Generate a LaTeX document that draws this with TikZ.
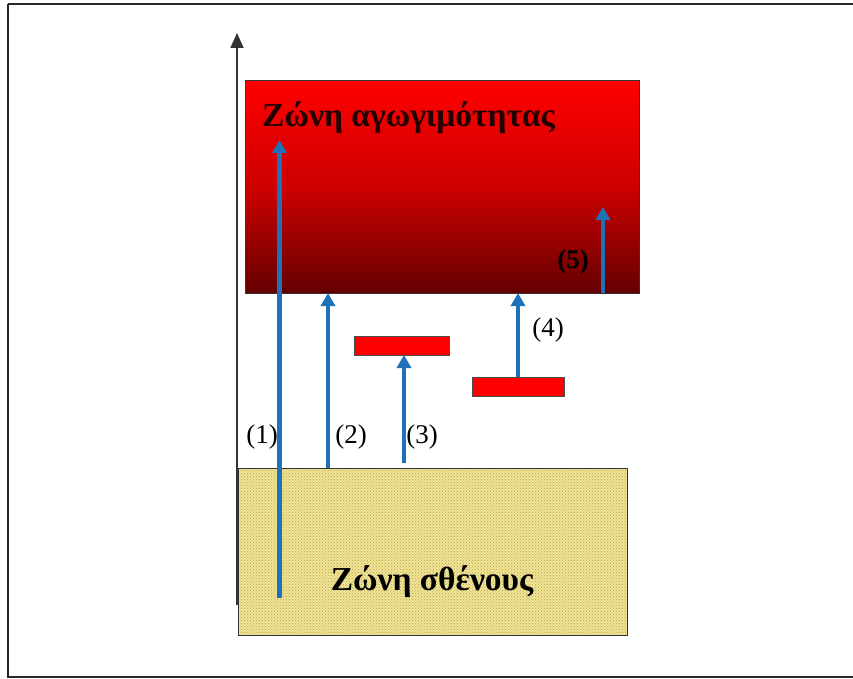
\documentclass[tikz,border=0pt]{standalone}
\usepackage{fontspec}
\setmainfont{Liberation Serif}
\usetikzlibrary{arrows.meta,patterns}
\definecolor{arrowblue}{RGB}{31,114,185}
\definecolor{bandtop}{RGB}{255,0,0}
\definecolor{bandbot}{RGB}{100,0,0}
\definecolor{sandfill}{RGB}{240,228,150}
\definecolor{sanddots}{RGB}{185,165,75}
\definecolor{darktext}{RGB}{35,0,0}
\tikzset{
  frame/.style={line width=2.2pt, draw=black!85},
  bandbox/.style={draw=black!80, line width=1pt, inner sep=0pt, outer sep=0pt, anchor=north west},
  levelbox/.style={draw=black!70, line width=0.8pt, fill=red, inner sep=0pt, outer sep=0pt, anchor=north west, minimum width=#1},
  trans/.style={draw=arrowblue, line width=4.5pt, -{Triangle[width=14pt,length=13pt]}},
  lbl/.style={font=\fontsize{27}{30}\selectfont, inner sep=0pt},
  title/.style={font=\fontsize{33.5}{38}\selectfont\bfseries, text=darktext, inner sep=0pt},
}
\begin{document}
\begin{tikzpicture}[x=1pt,y=-1pt]
\useasboundingbox (0,0) rectangle (853,679);
% outer frame (right edge lies beyond the picture)
\draw[frame] (8,4) -- (870,4) (8,4) -- (8,677) -- (870,677);
% energy axis
\coordinate (axbot) at (237,605);
\coordinate (axtop) at (237,33);
\draw[line width=1.8pt, draw=black!80, -{Triangle[width=13pt,length=15pt]}] (axbot) -- (axtop);
% conduction band
\node[bandbox, minimum width=394pt, minimum height=212pt, top color=bandtop, bottom color=bandbot, middle color={rgb,255:red,205;green,0;blue,0}] (cb) at (245,81) {};
\node[title, anchor=west] (cbt) at (262,118) {Ζώνη αγωγιμότητας};
% valence band
\node[bandbox, minimum width=389pt, minimum height=167pt, fill=sandfill] (vb) at (238,468) {};
\fill[pattern=crosshatch dots, pattern color=sanddots] (vb.north west) rectangle (vb.south east);
\draw[draw=black!80, line width=1pt] (vb.north west) rectangle (vb.south east);
\node[title, text=black] (vbt) at (432,582) {Ζώνη σθένους};
% impurity levels
\node[levelbox=95pt, minimum height=19pt] (l1) at (354,336) {};
\node[levelbox=92pt, minimum height=19pt] (l2) at (472,377) {};
% transitions
\coordinate (a1s) at (279.5,598);
\coordinate (a1e) at (279.5,140);
\draw[trans] (a1s) -- (a1e);
\coordinate (a2s) at (328,468);
\draw[trans] (a2s) -- (a2s |- cb.south);
\coordinate (a3s) at (404,463);
\draw[trans] (a3s) -- (a3s |- l1.south);
\coordinate (a4s) at (518,377);
\draw[trans] (a4s) -- (a4s |- cb.south);
\coordinate (a5s) at (603,293);
\coordinate (a5e) at (603,207);
\draw[trans] (a5s) -- (a5e);
% labels
\node[lbl] (t1) at (262,437) {(1)};
\node[lbl] (t2) at (351,437) {(2)};
\node[lbl] (t3) at (422,437) {(3)};
\node[lbl] (t4) at (548,330) {(4)};
\node[lbl, font=\fontsize{27}{30}\selectfont\bfseries] (t5) at (573,262) {(5)};
\end{tikzpicture}
\end{document}
